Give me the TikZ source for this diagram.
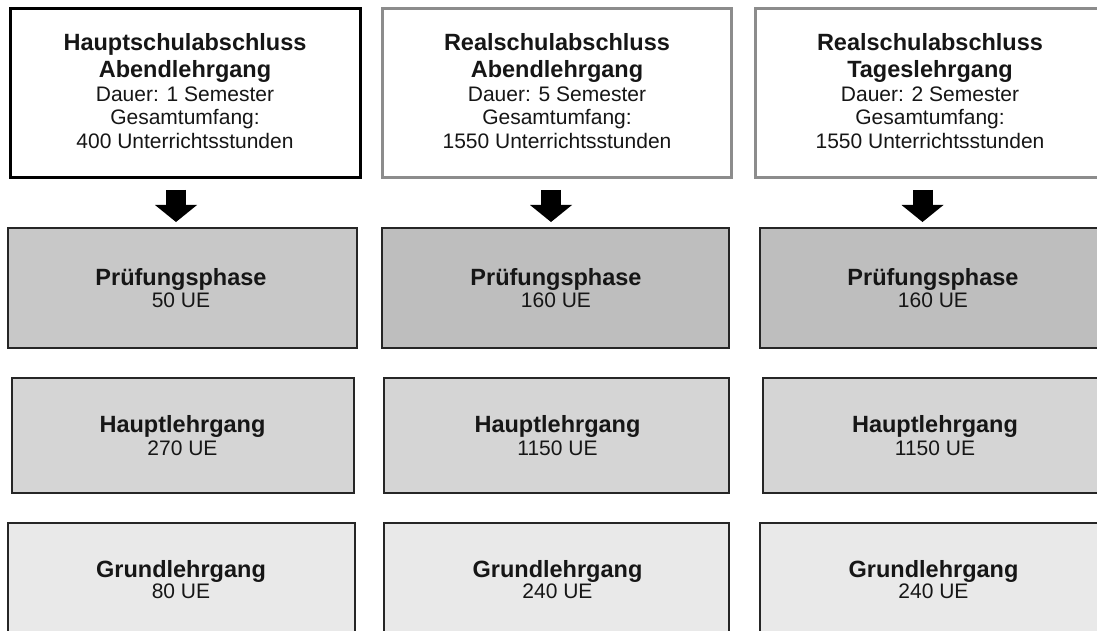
\documentclass[tikz,border=0pt]{standalone}
\usepackage{fontspec}
\setmainfont{Liberation Sans}
\usetikzlibrary{arrows.meta}
\definecolor{topgray}{RGB}{140,140,140}
\definecolor{edgec}{RGB}{38,38,38}
\definecolor{pruefA}{RGB}{200,200,200}
\definecolor{pruefB}{RGB}{190,190,190}
\definecolor{hauptC}{RGB}{213,213,213}
\definecolor{grundC}{RGB}{233,233,233}
\definecolor{ink}{RGB}{22,22,22}
\tikzset{
  box/.style={rectangle, draw=edgec, line width=2pt, inner sep=0pt, outer sep=0pt},
  topA/.style={box, draw=black, line width=3pt, fill=white, minimum height=169pt},
  topB/.style={box, draw=topgray, line width=3pt, fill=white, minimum height=169pt},
  pruefbox/.style={box, minimum height=120pt},
  hauptbox/.style={box, fill=hauptC, minimum height=115pt},
  grundbox/.style={box, fill=grundC, minimum height=115pt},
  ttl/.style={anchor=base, inner sep=0pt, text=ink, font=\fontsize{23.5}{28}\selectfont\bfseries},
  sub/.style={anchor=base, inner sep=0pt, text=ink, font=\fontsize{21}{24}\selectfont},
  arrowdown/.style={draw=black, line width=20pt, -{Triangle[length=17pt,width=42pt,line width=0pt]}, shorten <=12.5pt, shorten >=6pt}
}
\begin{document}
\begin{tikzpicture}[x=1pt,y=-1pt]
\useasboundingbox (0,0) rectangle (1097,631);
\fill[white] (0,0) rectangle (1097,631);
% top boxes
\node[topA, minimum width=350pt] (t1) at (185,93) {};
\node[topB, minimum width=349pt] (t2) at (556.5,93) {};
\node[topB, minimum width=352pt] (t3) at (931,93) {};
% Pruefungsphase
\node[pruefbox, fill=pruefA, minimum width=349pt] (p1) at (182.5,288) {};
\node[pruefbox, fill=pruefB, minimum width=347pt] (p2) at (555.5,288) {};
\node[pruefbox, fill=pruefB, minimum width=347pt] (p3) at (933.5,288) {};
% Hauptlehrgang
\node[hauptbox, minimum width=342pt] (h1) at (183,435.5) {};
\node[hauptbox, minimum width=345pt] (h2) at (556.5,435.5) {};
\node[hauptbox, minimum width=344pt] (h3) at (935,435.5) {};
% Grundlehrgang
\node[grundbox, minimum width=347pt] (g1) at (181.5,580.5) {};
\node[grundbox, minimum width=345pt] (g2) at (556.5,580.5) {};
\node[grundbox, minimum width=347pt] (g3) at (933.5,580.5) {};
% texts column 1
\node[ttl] (t1a) at (185,51) {Hauptschulabschluss};
\node[ttl] (t1b) at (185,78) {Abendlehrgang};
\node[sub] (t1c) at (185,102) {Dauer: 1 Semester};
\node[sub] (t1d) at (185,125) {Gesamtumfang:};
\node[sub] (t1e) at (185,149) {400 Unterrichtsstunden};
% texts column 2
\node[ttl] (t2a) at (557,51) {Realschulabschluss};
\node[ttl] (t2b) at (557,78) {Abendlehrgang};
\node[sub] (t2c) at (557,102) {Dauer: 5 Semester};
\node[sub] (t2d) at (557,125) {Gesamtumfang:};
\node[sub] (t2e) at (557,149) {1550 Unterrichtsstunden};
% texts column 3
\node[ttl] (t3a) at (930,51) {Realschulabschluss};
\node[ttl] (t3b) at (930,78) {Tageslehrgang};
\node[sub] (t3c) at (930,102) {Dauer: 2 Semester};
\node[sub] (t3d) at (930,125) {Gesamtumfang:};
\node[sub] (t3e) at (930,149) {1550 Unterrichtsstunden};
% lower texts
\node[ttl] (p1a) at (181,285) {Prüfungsphase};
\node[sub] (p1b) at (181,307) {50 UE};
\node[ttl] (p2a) at (556,285) {Prüfungsphase};
\node[sub] (p2b) at (556,307) {160 UE};
\node[ttl] (p3a) at (933,285) {Prüfungsphase};
\node[sub] (p3b) at (933,307) {160 UE};
\node[ttl] (h1a) at (182.5,432) {Hauptlehrgang};
\node[sub] (h1b) at (182.5,455) {270 UE};
\node[ttl] (h2a) at (557.5,432) {Hauptlehrgang};
\node[sub] (h2b) at (557.5,455) {1150 UE};
\node[ttl] (h3a) at (935,432) {Hauptlehrgang};
\node[sub] (h3b) at (935,455) {1150 UE};
\node[ttl] (g1a) at (181,577) {Grundlehrgang};
\node[sub] (g1b) at (181,598) {80 UE};
\node[ttl] (g2a) at (557.5,577) {Grundlehrgang};
\node[sub] (g2b) at (557.5,598) {240 UE};
\node[ttl] (g3a) at (933.5,577) {Grundlehrgang};
\node[sub] (g3b) at (933.5,598) {240 UE};
% arrows
\draw[arrowdown] (t1.south -| 176,0) -- (p1.north -| 176,0);
\draw[arrowdown] (t2.south -| 551,0) -- (p2.north -| 551,0);
\draw[arrowdown] (t3.south -| 922.5,0) -- (p3.north -| 922.5,0);
\end{tikzpicture}
\end{document}
